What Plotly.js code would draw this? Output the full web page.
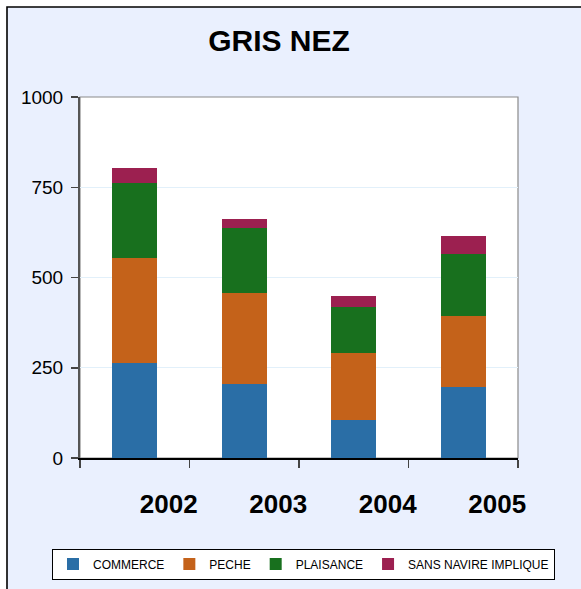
<!DOCTYPE html>
<html>
<head>
<meta charset="utf-8">
<script src="https://cdn.plot.ly/plotly-3.0.1.min.js"></script>
<style>
html,body{margin:0;padding:0;background:#ffffff;}
#chart{width:581px;height:589px;}
</style>
</head>
<body>
<div id="chart"></div>
<script>
// Data
var years = ['2002', '2003', '2004', '2005'];
var commerce = [264, 206, 106, 197];
var peche = [289, 250, 186, 195];
var plaisance = [208, 180, 126, 172];
var sansNavire = [42, 25, 30, 50];
var seriesNames = ['COMMERCE', 'PECHE', 'PLAISANCE', 'SANS NAVIRE IMPLIQUE'];
var yTicks = [0, 250, 500, 750, 1000];

var colors = ['#2a6ea6', '#c4621a', '#18701e', '#9c2050'];
var seriesValues = [commerce, peche, plaisance, sansNavire];

var FONT = 'Liberation Sans, Arial, sans-serif';

var traces = seriesValues.map(function (vals, i) {
  return {
    type: 'bar',
    name: seriesNames[i],
    x: years,
    y: vals,
    marker: { color: colors[i], line: { width: 0 } },
    hoverinfo: 'x+y+name'
  };
});

// plot area pixel geometry
var W = 581, H = 589;
var L = 80, R = 63, T = 97, B = 131;
var pw = W - L - R, ph = H - T - B;
function px(x) { return (x - L) / pw; }
function py(y) { return (H - B - y) / ph; }

var layout = {
  width: W,
  height: H,
  margin: { l: L, r: R, t: T, b: B, pad: 0, autoexpand: false },
  paper_bgcolor: '#ffffff',
  plot_bgcolor: '#ffffff',
  barmode: 'stack',
  bargap: 0.59,
  font: { family: FONT, color: '#000000' },
  title: {
    text: '<b>GRIS NEZ</b>',
    font: { family: FONT, size: 30, color: '#000000' },
    x: 279 / W,
    xanchor: 'center',
    xref: 'container',
    y: 1 - 40 / H,
    yref: 'container',
    yanchor: 'middle'
  },
  xaxis: {
    type: 'category',
    tickson: 'boundaries',
    ticks: 'outside',
    ticklen: 8,
    tickwidth: 1.5,
    tickcolor: '#444444',
    showline: true,
    linecolor: '#000000',
    linewidth: 2,
    showgrid: false,
    zeroline: false,
    tickfont: { family: FONT, size: 26, color: '#000000', weight: 'bold' },
    ticklabelshift: 34,
    ticklabelstandoff: 22,
    fixedrange: true
  },
  yaxis: {
    range: [0, 1000],
    tickvals: yTicks,
    ticktext: yTicks.map(String),
    ticks: 'outside',
    ticklen: 7,
    tickwidth: 1.5,
    tickcolor: '#444444',
    showline: true,
    linecolor: '#555555',
    linewidth: 2,
    showgrid: true,
    gridcolor: '#e2f0fa',
    gridwidth: 1,
    zeroline: false,
    tickfont: { family: FONT, size: 19, color: '#000000' },
    ticklabelstandoff: 4,
    fixedrange: true
  },
  legend: {
    orientation: 'h',
    xref: 'paper',
    yref: 'paper',
    x: px(52),
    xanchor: 'left',
    y: py(564),
    yanchor: 'middle',
    bgcolor: '#ffffff',
    bordercolor: '#000000',
    borderwidth: 1,
    font: { family: FONT, size: 12, color: '#000000' },
    traceorder: 'normal',
    itemwidth: 30,
    tracegroupgap: 0
  },
  showlegend: true,
  shapes: [
    {
      type: 'rect', xref: 'paper', yref: 'paper', layer: 'below',
      x0: px(7), x1: px(W + 20), y0: py(H + 20), y1: py(7),
      fillcolor: '#eaf0fe',
      line: { color: '#000000', width: 1.6 }
    },
    {
      type: 'rect', xref: 'paper', yref: 'paper', layer: 'below',
      x0: 0, x1: 1, y0: 0, y1: 1,
      fillcolor: '#ffffff',
      line: { color: '#8a8a8a', width: 1.2 }
    }
  ]
};

Plotly.newPlot('chart', traces, layout, { displayModeBar: false, staticPlot: true });
</script>
</body>
</html>
